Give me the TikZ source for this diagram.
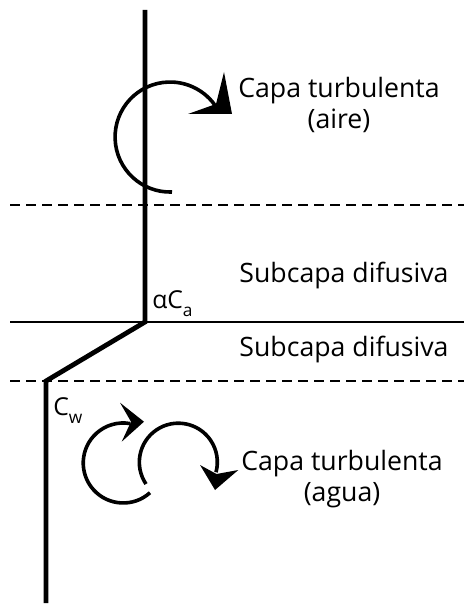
\documentclass[tikz,border=0pt]{standalone}
\usepackage{fontspec}
\setmainfont{Open Sans}
\begin{document}
\begin{tikzpicture}[x=0.75pt,y=0.75pt,
  profile/.style={line width=3.6pt,line join=miter,color=black},
  interface/.style={line width=1.6pt},
  boundary/.style={line width=1.6pt,dash pattern=on 7.5pt off 4.5pt},
  eddy/.style={line width=2.7pt},
  eddyhead/.style={fill=black,draw=none},
  biglabel/.style={inner sep=0pt,font=\fontsize{20}{23.25}\selectfont,align=center},
  conc/.style={inner sep=0pt,font=\fontsize{18.5}{20}\selectfont}]
\useasboundingbox (0,0) rectangle (464,-605);

% layer boundaries
\draw[boundary] (10,-205) -- (464,-205);
\draw[interface] (10,-322) -- (464,-322);
\draw[boundary] (10,-381) -- (464,-381);

% concentration profile
\coordinate (ptop) at (145,-10);
\coordinate (pa) at (145,-322);
\coordinate (pw) at (46,-381);
\coordinate (pbot) at (46,-603);
\draw[profile] (ptop) -- (pa) -- (pw) -- (pbot);

% eddy in the air
\draw[eddy] (172,-192) arc[start angle=272,end angle=33,radius=55];
\fill[eddyhead] (224,-72) -- (232,-114) -- (188,-114) -- (216,-104) -- cycle;

% eddies in the water
\draw[eddy] (150,-492.7) arc[start angle=312,end angle=80,radius=40];
\fill[eddyhead] (120,-402.7) -- (144,-421.7) -- (121.7,-441.7) -- (131,-421.7) -- cycle;
\draw[eddy] (146,-484) arc[start angle=214,end angle=-15,radius=39];
\fill[eddyhead] (200,-465) -- (216.5,-474) -- (238.3,-470) -- (215,-490) -- cycle;

% labels
\node[biglabel,anchor=north] (air) at (339,-77) {Capa turbulenta\\(aire)};
\node[biglabel,anchor=base] (difa) at (344,-282) {Subcapa difusiva};
\node[biglabel,anchor=base] (difw) at (344,-356) {Subcapa difusiva};
\node[biglabel,anchor=north] (water) at (342,-450) {Capa turbulenta\\(agua)};
\node[conc,anchor=base west] (ca) at (152,-308) {αC\raisebox{-6pt}{\fontsize{13}{14}\selectfont a}};
\node[conc,anchor=base west] (cw) at (53,-415) {C\raisebox{-6pt}{\fontsize{13}{14}\selectfont w}};
\end{tikzpicture}
\end{document}
